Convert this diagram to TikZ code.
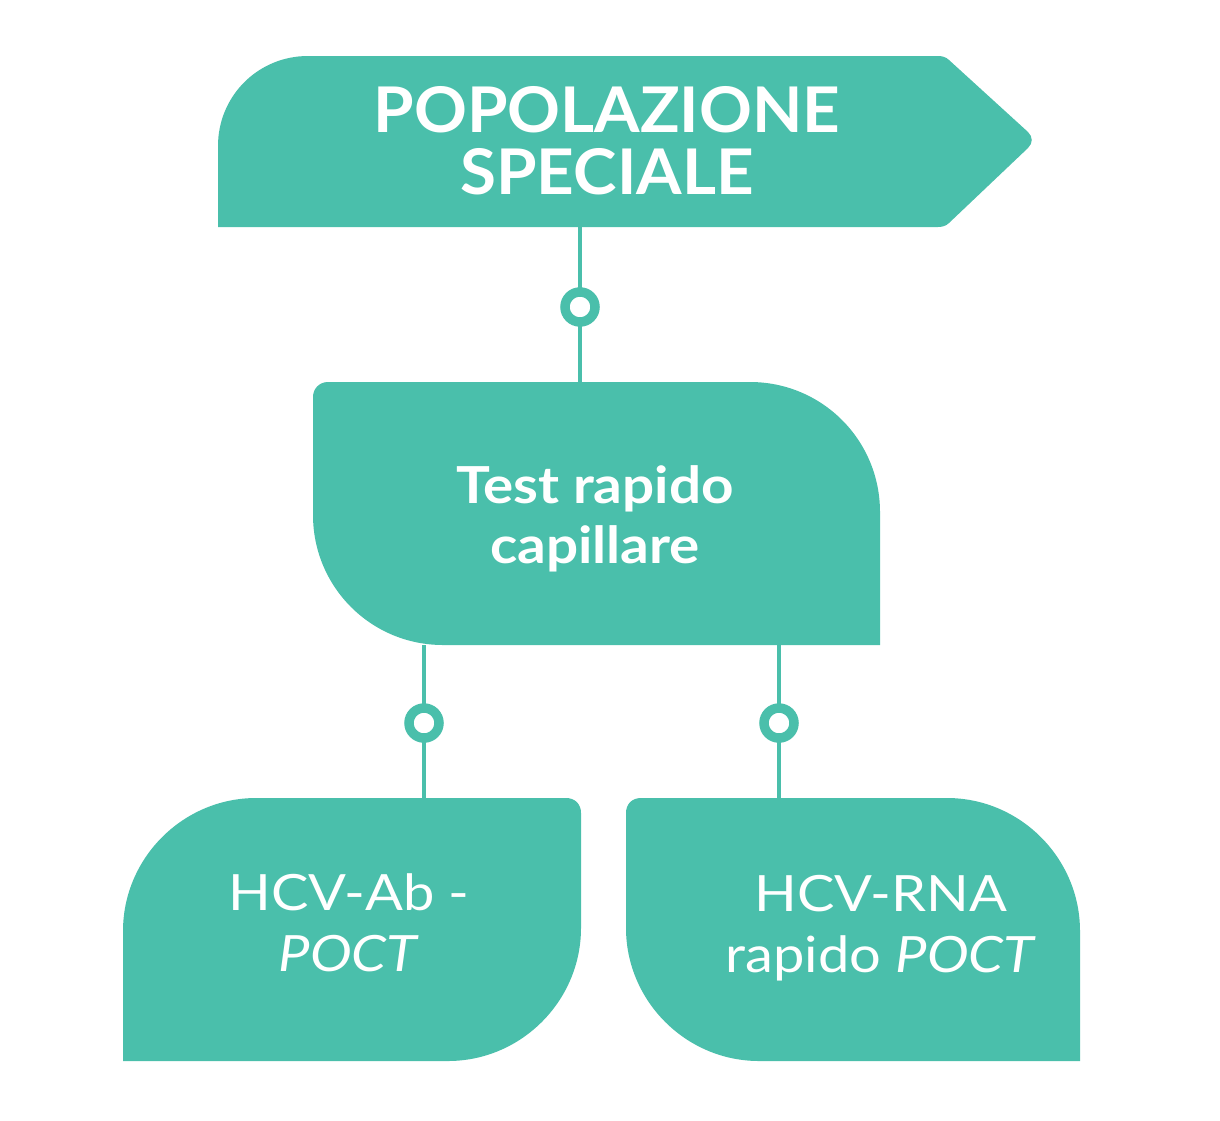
\documentclass[tikz,border=0pt]{standalone}
\usepackage{fontspec}
\setmainfont{Lato}
\newfontfamily\titlefont[FakeStretch=1.04]{Lato}
\newfontfamily\widefont[FakeStretch=1.11]{Lato}
\newfontfamily\leaffont[FakeStretch=1.12]{Lato}
\usepackage{tikz}
\usetikzlibrary{positioning, calc}
\definecolor{hcvteal}{RGB}{74,191,171}

\begin{document}
\begin{tikzpicture}[
    x=1pt, y=-1pt,
    panel/.style={fill=hcvteal},
    titletext/.style={text=white, align=center, font=\titlefont\fontsize{63}{62}\selectfont\bfseries},
    testtext/.style={text=white, align=center, font=\widefont\fontsize{51}{60}\selectfont\bfseries},
    leaftext/.style={text=white, align=center, font=\leaffont\fontsize{50}{61}\selectfont},
    link/.style={draw=hcvteal, line width=3.3pt},
    ring/.style={circle, draw=hcvteal, fill=white, line width=9.5pt, minimum size=30pt, inner sep=0pt}
]
\useasboundingbox (0,0) rectangle (1220,1120);

% Title arrow
\fill[panel] (218,227) -- (218,146) .. controls (218,96) and (258,56) .. (308,56)
    -- (938,56) .. controls (942,56) and (946,57) .. (949,60)
    -- (1028,132) .. controls (1033,137) and (1033,143) .. (1028,148)
    -- (949,223) .. controls (946,226) and (942,227) .. (938,227) -- cycle;
\node[titletext] (popolazione) at (607,141) {POPOLAZIONE\\SPECIALE};

% Middle box
\fill[panel] (313,397) .. controls (313,389) and (319,382) .. (328,382)
    -- (750,382) .. controls (822,382) and (880,440) .. (880,512)
    -- (880,645) -- (443,645) .. controls (371,645) and (313,587) .. (313,515) -- cycle;
\node[testtext] (test) at (595,519) {Test rapido\\capillare};

% Bottom boxes
\fill[panel] (123,931) .. controls (123,858) and (183,798) .. (256,798)
    -- (566,798) .. controls (575,798) and (581,804) .. (581,813)
    -- (581,928) .. controls (581,1001) and (521,1061) .. (448,1061)
    -- (123,1061) -- cycle;
\node[leaftext] (hcvab) at (349,923) {HCV-Ab -\\\textit{POCT}};

\fill[panel] (641,798) -- (947,798) .. controls (1020,798) and (1080,858) .. (1080,931)
    -- (1080,1061) -- (759,1061) .. controls (686,1061) and (626,1001) .. (626,928)
    -- (626,813) .. controls (626,804) and (632,798) .. (641,798) -- cycle;
\node[leaftext] (hcvrna) at (881,928) {HCV-RNA\\rapido \textit{POCT}};

% Connectors
\coordinate (topout) at (580,227);
\coordinate (testin) at (580,382);
\coordinate (testoutL) at (424,645);
\coordinate (abin) at (424,798);
\coordinate (testoutR) at (779,645);
\coordinate (rnain) at (779,798);

\draw[link] (topout) -- node[ring, pos=0.516] (ring1) {} (testin);
\draw[link] (testoutL) -- node[ring, pos=0.51] (ring2) {} (abin);
\draw[link] (testoutR) -- node[ring, pos=0.51] (ring3) {} (rnain);

\end{tikzpicture}
\end{document}
